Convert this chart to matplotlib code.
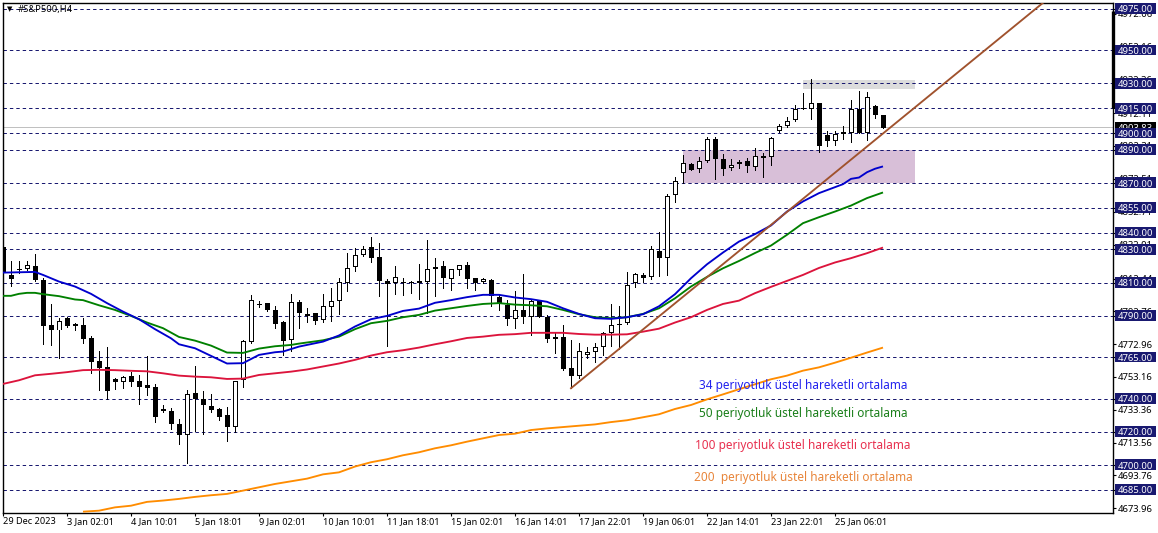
import matplotlib
matplotlib.use("Agg")
import matplotlib.pyplot as plt
from matplotlib.patches import Rectangle

W, H = 1158, 533

open_ = [4831.3,4814.6,4818.0,4817.9,4820.1,4811.6,4784.3,4781.1,4788.5,4785.1,
4784.3,4776.6,4762.8,4759.2,4751.9,4750.3,4753.7,4750.7,4748.3,4747.1,
4733.8,4732.6,4724.6,4718.0,4743.5,4739.9,4735.6,4733.8,4730.0,4723.2,
4751.1,4774.4,4797.0,4797.6,4793.3,4786.1,4775.2,4798.2,4789.9,4791.5,
4787.3,4795.5,4798.8,4810.0,4819.3,4826.5,4831.3,4825.3,4811.0,4809.6,
4810.2,4810.4,4811.0,4810.2,4818.0,4820.1,4812.0,4817.5,4820.7,4812.6,
4810.2,4811.4,4801.2,4796.6,4788.3,4793.3,4789.5,4798.6,4789.5,4777.2,
4777.2,4758.6,4753.9,4766.6,4767.9,4771.0,4779.4,4785.0,4785.5,4809.6,
4814.6,4813.6,4829.3,4824.7,4862.7,4876.3,4881.3,4878.7,4883.1,4896.4,
4884.4,4879.3,4881.3,4883.1,4879.5,4886.3,4885.5,4901.6,4904.2,4907.8,
4915.1,4914.5,4918.1,4898.8,4895.6,4900.6,4900.4,4914.5,4900.4,4916.5,4910.9]

close = [4816.6,4812.2,4817.6,4820.5,4811.6,4783.9,4781.5,4786.7,4784.1,4784.1,
4776.2,4762.4,4758.2,4744.7,4750.3,4752.9,4750.3,4747.3,4746.7,4729.2,
4732.8,4725.0,4718.4,4742.7,4739.9,4736.4,4733.2,4729.2,4723.2,4750.5,
4774.6,4799.4,4796.6,4793.7,4785.3,4775.0,4798.2,4791.9,4790.9,4787.1,
4795.7,4798.8,4810.2,4818.7,4826.5,4830.5,4824.5,4811.2,4809.0,4813.2,
4809.6,4809.8,4809.8,4818.0,4819.3,4813.0,4818.0,4820.5,4812.4,4810.0,
4812.4,4802.0,4797.8,4788.3,4793.3,4789.5,4798.6,4789.5,4776.2,4776.2,
4757.6,4753.9,4768.6,4768.0,4771.0,4779.4,4784.6,4784.6,4808.4,4815.0,
4813.0,4830.1,4825.1,4862.1,4871.1,4881.9,4878.1,4883.1,4896.4,4884.2,
4878.7,4880.7,4882.5,4880.0,4886.2,4885.3,4897.4,4904.2,4907.6,4914.9,
4914.5,4918.1,4892.6,4895.6,4899.4,4899.4,4914.5,4900.4,4921.7,4910.7,4903.4]

high = [4834.7,4822.7,4822.7,4823.1,4827.3,4812.6,4797.1,4788.5,4789.5,4785.9,
4788.7,4777.7,4768.8,4771.2,4752.3,4753.7,4756.1,4754.3,4765.8,4748.9,
4736.0,4734.4,4727.6,4745.3,4759.8,4744.5,4742.9,4734.4,4735.0,4750.7,
4775.4,4802.4,4798.8,4797.8,4795.7,4786.7,4803.0,4799.6,4794.7,4791.5,
4803.2,4806.6,4812.6,4827.9,4830.7,4832.1,4837.3,4833.9,4812.0,4820.1,
4812.6,4811.0,4821.3,4835.7,4824.9,4823.1,4818.0,4820.5,4822.3,4812.6,
4812.6,4812.0,4802.6,4799.6,4805.0,4815.2,4799.6,4799.6,4790.5,4779.5,
4784.5,4775.4,4773.4,4771.2,4773.4,4780.0,4797.1,4795.9,4816.2,4815.6,
4815.6,4831.9,4840.6,4863.3,4873.7,4887.0,4881.9,4885.6,4897.6,4897.6,
4887.6,4884.6,4883.6,4885.0,4891.0,4888.0,4898.0,4905.6,4909.7,4917.1,
4924.5,4932.6,4918.5,4901.4,4901.4,4904.4,4920.1,4925.5,4924.7,4916.9,4911.1]

low = [4795.9,4808.2,4816.0,4817.6,4811.2,4773.0,4772.4,4764.4,4783.5,4781.1,
4773.6,4755.3,4745.3,4739.7,4745.9,4746.7,4747.7,4736.8,4742.3,4726.2,
4732.0,4721.8,4712.7,4701.5,4720.4,4719.0,4732.2,4727.2,4714.7,4720.0,
4747.3,4773.6,4795.0,4793.1,4782.5,4766.4,4769.0,4782.9,4786.5,4785.1,
4786.5,4786.9,4791.1,4805.2,4817.2,4826.3,4822.1,4802.0,4771.8,4803.2,
4802.6,4804.0,4800.2,4791.5,4801.6,4806.8,4805.6,4814.6,4806.8,4805.6,
4809.6,4795.9,4793.5,4784.5,4782.9,4785.7,4778.5,4789.1,4774.4,4767.8,
4757.4,4746.3,4752.3,4764.4,4762.4,4766.4,4771.8,4769.8,4785.3,4807.6,
4810.4,4812.4,4814.0,4814.6,4858.8,4869.9,4877.9,4876.9,4882.4,4872.7,
4875.1,4877.9,4878.9,4876.9,4877.9,4873.9,4880.9,4901.0,4903.6,4907.6,
4914.5,4908.4,4888.6,4892.4,4893.2,4896.6,4895.0,4900.0,4896.0,4908.9,4903.4]

ema34_idx = [0,2,4,5,7,9,11,13,15,17,19,21,22,24,26,28,30,32,34,35,37,40,42,44,46,48,50,52,54,56,58,60,62,64,66,68,70,72,74,76,78,80,82,84,86,88,90,92,94,96,98,100,102,104,105,106,107,108,109,110]
ema34 = [4816.0,4816.2,4816.4,4814.6,4810.6,4807.6,4803.2,4797.6,4792.5,4787.9,4781.9,4776.4,4772.8,4770.4,4765.8,4761.2,4761.4,4766.4,4768.0,4768.4,4771.4,4774.4,4778.1,4783.5,4787.9,4789.9,4792.9,4794.3,4797.8,4799.4,4801.2,4802.6,4802.6,4801.0,4800.0,4798.4,4794.5,4791.1,4788.5,4788.1,4789.1,4790.9,4795.7,4803.0,4812.6,4821.0,4828.1,4834.7,4839.2,4844.4,4852.8,4858.9,4863.9,4867.5,4869.3,4872.5,4873.3,4876.5,4878.6,4880.0]

ema50_idx = [0,1,2,3,4,5,7,9,10,12,14,16,18,20,22,24,26,28,30,32,34,36,37,40,42,44,46,48,50,52,54,56,58,60,62,64,66,68,70,72,74,76,78,80,82,84,86,88,90,92,94,96,98,100,102,104,106,108,110]
ema50 = [4802.0,4802.0,4803.2,4803.8,4803.8,4803.0,4801.8,4799.8,4799.4,4796.3,4793.5,4789.9,4785.9,4782.5,4777.2,4775.0,4772.0,4767.8,4767.6,4770.2,4771.6,4772.4,4773.2,4775.2,4777.4,4781.9,4785.5,4786.9,4789.1,4790.5,4793.1,4794.5,4795.9,4797.1,4797.6,4796.7,4796.3,4795.7,4793.5,4790.9,4789.1,4788.5,4789.1,4791.1,4794.5,4800.5,4807.6,4813.4,4818.6,4823.0,4827.8,4832.3,4838.8,4845.8,4849.4,4852.8,4856.4,4860.9,4864.3]

ema100_idx = list(range(0, 111, 2))
ema100 = [4748.9,4751.1,4754.1,4755.0,4756.0,4757.2,4757.4,4757.2,4756.8,4756.5,4755.3,4753.9,4753.3,4752.9,4751.9,4752.1,4754.3,4755.3,4756.3,4757.6,4759.4,4761.2,4763.4,4766.0,4768.0,4769.2,4770.8,4772.8,4774.6,4776.6,4777.4,4778.5,4778.9,4779.7,4779.7,4779.7,4779.0,4778.6,4778.6,4778.8,4780.4,4782.2,4785.9,4789.1,4793.5,4797.1,4799.1,4803.6,4807.4,4811.0,4814.6,4818.8,4822.1,4824.7,4827.7,4831.1]

ema200_idx = list(range(10, 111, 2))
ema200 = [4671.9,4672.5,4674.5,4675.5,4677.8,4678.6,4679.6,4680.8,4681.8,4682.6,4684.6,4686.6,4688.6,4690.2,4691.8,4694.4,4695.6,4699.1,4701.7,4703.5,4705.9,4707.7,4710.1,4711.9,4714.1,4716.1,4718.1,4718.9,4721.1,4722.1,4722.9,4723.7,4724.5,4725.9,4727.0,4728.8,4730.6,4733.8,4736.2,4739.6,4742.6,4745.7,4748.7,4751.7,4753.9,4756.9,4758.9,4761.7,4764.7,4767.8,4770.8]

levels = [4975, 4950, 4930, 4915, 4900, 4890, 4870, 4855, 4840, 4830, 4810, 4790, 4765, 4740, 4720, 4700, 4685]
auto_ticks = [4972.06, 4952.16, 4932.36, 4912.11, 4892.31, 4872.51, 4852.71, 4832.91, 4812.44, 4792.76, 4772.96, 4753.16, 4733.36, 4713.56, 4693.76, 4673.96]
bid_label = "4903.83"
date_labels = ["29 Dec 2023", "3 Jan 02:01", "4 Jan 10:01", "5 Jan 18:01", "9 Jan 02:01", "10 Jan 10:01", "11 Jan 18:01",
               "15 Jan 02:01", "16 Jan 14:01", "17 Jan 22:01", "19 Jan 06:01", "22 Jan 14:01", "23 Jan 22:01", "25 Jan 06:01"]
trend_x = [71, 130]
trend_y = [4746.3, 4978.6]
zone_purple = (85.0, 114.0, 4870.0, 4889.8)
zone_gray = (100.0, 114.0, 4926.8, 4932.2)
notes = [("34 periyotluk üstel hareketli ortalama", "#2222EE", 699, 385),
         ("50 periyotluk üstel hareketli ortalama", "#1A7F1A", 699, 413),
         ("100 periyotluk üstel hareketli ortalama", "#E8304F", 695, 446),
         ("200  periyotluk üstel hareketli ortalama", "#E8853A", 694, 478)]

FONT = "Noto Sans"
plt.rcParams["font.family"] = [FONT, "DejaVu Sans"]
NAVY = "#191970"
PX = 0.72

fig = plt.figure(figsize=(W / 100, H / 100), dpi=100, facecolor="white")
L, R, T, B = 2.5, 1112.5, 2.5, 512.5
ax = fig.add_axes([L / W, 1 - B / H, (R - L) / W, (B - T) / H])
ax.set_xlim((L - 3) / 8, (R - 3) / 8)
ax.set_ylim(4671.4, 4978.8)
for s in ax.spines.values():
    s.set_linewidth(1.0)
    s.set_color("black")

for (x0, x1, y0, y1), col in ((zone_purple, "#D8BFD8"), (zone_gray, "#DCDCDC")):
    ax.add_patch(Rectangle((x0, y0), x1 - x0, y1 - y0, facecolor=col, edgecolor="none", zorder=0.5))

for lv in levels:
    ax.axhline(lv, color=NAVY, lw=PX, ls=(0, (3.4, 3)), zorder=1, snap=True)
ax.axhline(close[-1] + 0.3, color="#C0C0C0", lw=PX, zorder=1, antialiased=False)

for i, (o, h, l, c) in enumerate(zip(open_, high, low, close)):
    ax.plot([i, i], [l, h], color="black", lw=PX, zorder=3, antialiased=False, solid_capstyle="butt")
    bottom, top = min(o, c), max(o, c)
    height = max(top - bottom, 0.6)
    ax.add_patch(Rectangle((i - 0.3125, bottom), 0.625, height, facecolor="black", edgecolor="none",
                           zorder=3.2, antialiased=False))
    if c > o and height > 1.3:
        ax.add_patch(Rectangle((i - 0.1875, bottom + 0.6), 0.375, height - 1.2, facecolor="white",
                               edgecolor="none", zorder=3.3, antialiased=False))

for xs, ys, col in ((ema200_idx, ema200, "#FF8C00"), (ema100_idx, ema100, "#DC143C"),
                    (ema50_idx, ema50, "#008000"), (ema34_idx, ema34, "#0000CD")):
    ax.plot(xs, ys, color=col, lw=1.35, zorder=4, solid_capstyle="butt")
ax.plot(trend_x, trend_y, color="#A0522D", lw=1.35, zorder=4.5)

# right price scale
ax.yaxis.tick_right()
ax.set_yticks(auto_ticks + levels)
ax.set_yticklabels([])
ax.tick_params(axis="y", length=2.2, width=0.8, color="black")
ytr = ax.get_yaxis_transform()
sx = 1 / (R - L)
unit = (4978.8 - 4671.4) / (B - T)
for t in auto_ticks:
    ax.text(1 + 5.5 * sx, t, f"{t:.2f}", transform=ytr, fontsize=6.8, color="black", va="center_baseline",
            ha="left", clip_on=False, zorder=6)
bid = close[-1] + 0.3
ax.add_patch(Rectangle((1 + 2 * sx, bid - 5.5 * unit), 41 * sx, 11 * unit, transform=ytr, facecolor="black",
                       edgecolor="none", clip_on=False, zorder=6.5))
ax.text(1 + 5.5 * sx, bid, bid_label, transform=ytr, fontsize=6.8, color="white", va="center_baseline",
        ha="left", clip_on=False, zorder=6.6)
for lv in levels:
    ax.add_patch(Rectangle((1 + 2 * sx, lv - 5.2 * unit), 41 * sx, 10.8 * unit, transform=ytr, facecolor=NAVY,
                           edgecolor="none", clip_on=False, zorder=7))
    ax.text(1 + 5.5 * sx, lv, f"{lv:.2f}", transform=ytr, fontsize=6.8, color="white", va="center_baseline",
            ha="left", clip_on=False, zorder=8)
ax.plot([1, 1], [4973.8, 4915], transform=ytr, color="black", lw=2.4, clip_on=False, zorder=5,
        solid_capstyle="butt")

# bottom time scale
ax.set_xticks(list(range(0, 8 * len(date_labels), 8)))
ax.set_xticklabels(date_labels, fontsize=6.6, ha="left")
ax.tick_params(axis="x", length=2.2, width=0.8, pad=1.2, color="black")

def px(x, y):
    return x / W, 1 - y / H

fig.text(*px(7, 9.5), "▼", fontsize=5, color="black", va="center", family="DejaVu Sans")
fig.text(*px(18, 9.5), "#S&P500,H4", fontsize=6.8, color="black", va="center")
for txt, col, x, y in notes:
    fig.text(*px(x, y), txt, fontsize=8.5, color=col, va="center", ha="left", zorder=9)

fig.savefig("out.png", dpi=100, facecolor="white")
